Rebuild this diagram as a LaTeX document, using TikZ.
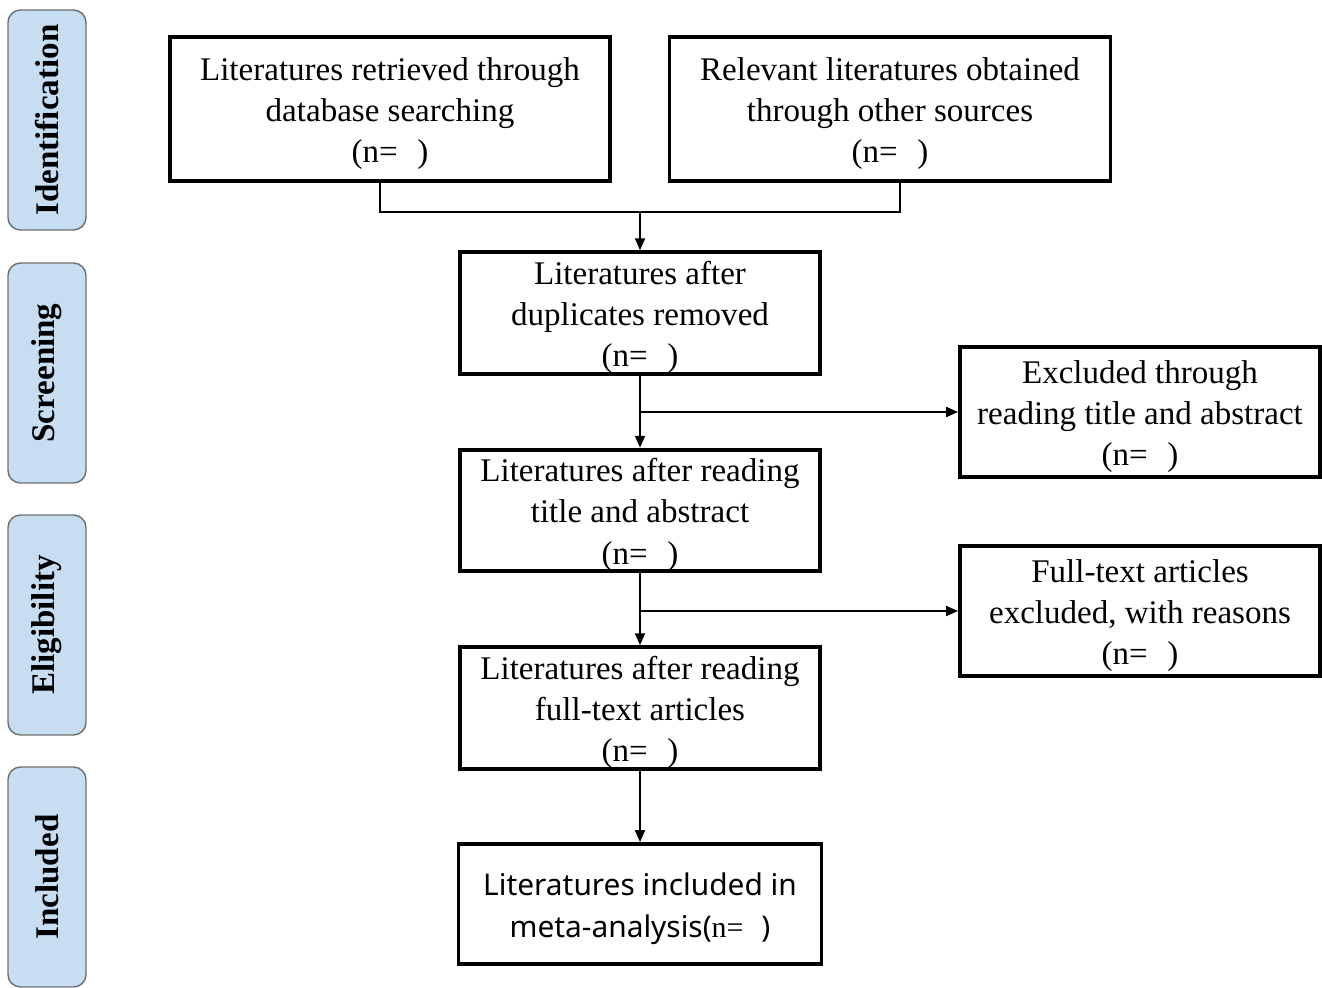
\documentclass[tikz,border=0pt]{standalone}
\usepackage{fontspec}
\setmainfont{Liberation Serif}
\newfontfamily\sansf{Noto Sans}
\usepackage{tikz}
\usetikzlibrary{positioning}
\usetikzlibrary{arrows.meta}
\usepackage{xcolor}
\definecolor{phasefill}{HTML}{C6DDF2}
\definecolor{phaseline}{HTML}{707070}
\newcommand{\nblank}{(n=\hspace{0.6em})}
\newcommand{\toppad}{\rule{0pt}{0.64cm}}

\begin{document}
\begin{tikzpicture}[main/.style = {draw, line width=2.2pt, align=center, font=\fontsize{18.8}{23.5}\selectfont, inner sep=0pt},
phase/.style = {draw=phaseline, fill=phasefill, line width=0.8pt, rounded corners=0.25cm, minimum width=1.56cm, minimum height=4.4cm},
phasetext/.style = {rotate=90, font=\fontsize{18.8}{20}\selectfont\bfseries},
link/.style = {line width=1.1pt},
arr/.style = {line width=1.1pt, -{Triangle[length=2.4mm,width=2mm]}},
node distance=10cm]
\useasboundingbox (0,0) rectangle (26.44,-19.74);
% phases
\node[phase] (id) at (0.94,-2.4) {};
\node[phasetext] at (id) {Identification};
\node[phase] (scr) at (0.94,-7.46) {};
\node[phasetext] at (scr) {Screening};
\node[phase] (eli) at (0.94,-12.5) {};
\node[phasetext] at (eli) {Eligibility};
\node[phase] (inc) at (0.94,-17.54) {};
\node[phasetext] at (inc) {Included};
% boxes
\node[main, minimum width=8.8cm, minimum height=2.88cm] (db) at (7.8,-2.18) {\toppad Literatures retrieved through\\database searching\\\nblank};
\node[main, minimum width=8.82cm, minimum height=2.88cm] (other) [right of=db] {\toppad Relevant literatures obtained\\through other sources\\\nblank};
\node[main, minimum width=7.2cm, minimum height=2.4cm] (dup) at (12.8,-6.26) {\toppad Literatures after\\duplicates removed\\\nblank};
\node[main, minimum width=7.2cm, minimum height=2.4cm] (title) [below of=dup, node distance=3.95cm] {\toppad Literatures after reading\\title and abstract\\\nblank};
\node[main, minimum width=7.2cm, minimum height=2.4cm] (full) [below of=title, node distance=3.95cm] {\toppad Literatures after reading\\full-text articles\\\nblank};
\node[main, minimum width=7.26cm, minimum height=2.4cm, font=\sansf\fontsize{17}{23.5}\selectfont] (meta) [below of=full, node distance=3.92cm] {\toppad Literatures included in\\meta-analysis(\textrm{n=}\hspace{0.6em})};
\node[main, minimum width=7.2cm, minimum height=2.6cm] (exc1) at (22.8,-8.24) {\toppad Excluded through\\reading title and abstract\\\nblank};
\node[main, minimum width=7.2cm, minimum height=2.6cm] (exc2) at (22.8,-12.22) {\toppad Full-text articles\\excluded, with reasons\\\nblank};
% connectors
\coordinate (join) at (12.8,-4.24);
\draw[link] ([xshift=-2mm]db.south) |- (join) -| ([xshift=2mm]other.south);
\draw[arr] (join) -- (dup.north);
\draw[arr] (dup.south) -- (title.north);
\draw[arr] (dup.south |- exc1.west) -- (exc1.west);
\draw[arr] (title.south) -- (full.north);
\draw[arr] (title.south |- exc2.west) -- (exc2.west);
\draw[arr] (full.south) -- (meta.north);
\end{tikzpicture}
\end{document}
